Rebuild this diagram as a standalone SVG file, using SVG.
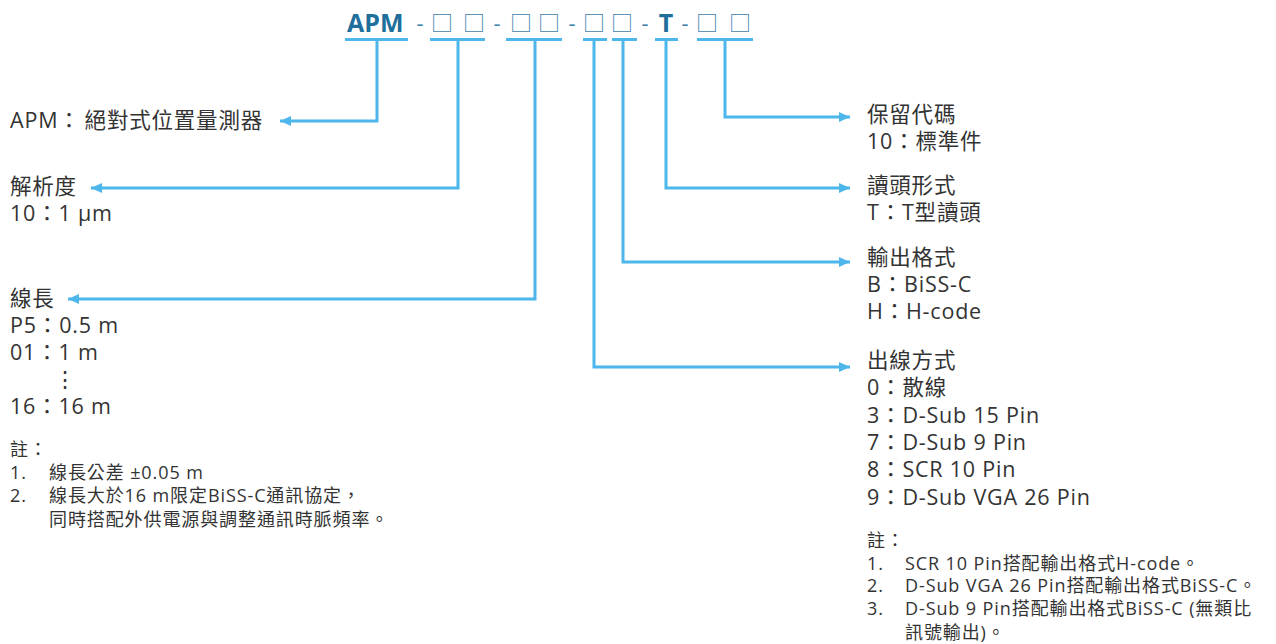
<svg xmlns="http://www.w3.org/2000/svg" width="1276" height="644" viewBox="0 0 1276 644">
<style>
.t{font-family:"Open Sans","Noto Sans CJK TC",sans-serif;font-size:21.5px;letter-spacing:0.8px;fill:#333}
.n{font-family:"Open Sans","Noto Sans CJK TC",sans-serif;font-size:18px;letter-spacing:0.9px;fill:#333}
.h{font-family:"Open Sans","Noto Sans CJK TC",sans-serif;font-size:25px;font-weight:bold;fill:#1f6f9c}
.b{font-family:"Noto Sans CJK TC",sans-serif;font-size:22px;fill:#3f83ae;text-anchor:middle}
.d{font-family:"Open Sans",sans-serif;font-size:22px;fill:#3f83ae;text-anchor:middle}
.u{stroke:#4db6ea;stroke-width:3;fill:none}
.c{stroke:#4db6ea;stroke-width:3;fill:none;marker-end:url(#ah)}
</style>
<defs>
<marker id="ah" markerUnits="userSpaceOnUse" markerWidth="12" markerHeight="10" refX="11" refY="5" orient="auto">
<path d="M0,0 L11,5 L0,10 Z" fill="#4db6ea"/>
</marker>
</defs>
<rect width="1276" height="644" fill="#fff"/>
<g id="header">
<text class="h" x="347" y="32">APM</text>
<text class="d" x="420" y="31">-</text>
<text class="b" x="442" y="31">□</text>
<text class="b" x="474" y="31">□</text>
<text class="d" x="497" y="31">-</text>
<text class="b" x="521" y="31">□</text>
<text class="b" x="549" y="31">□</text>
<text class="d" x="572" y="31">-</text>
<text class="b" x="594" y="31">□</text>
<text class="b" x="622" y="31">□</text>
<text class="d" x="645" y="31">-</text>
<text class="h" x="666" y="32" text-anchor="middle">T</text>
<text class="d" x="685" y="31">-</text>
<text class="b" x="707" y="31">□</text>
<text class="b" x="740" y="31">□</text>
<path class="u" d="M345,39.5H408M430,39.5H485M506,39.5H562M583,39.5H607M612,39.5H637M655,39.5H678M697,39.5H753"/>
</g>
<g id="connectors">
<path class="c" d="M377,39.5V121H280"/>
<path class="c" d="M458,39.5V188H91"/>
<path class="c" d="M535,39.5V299H68"/>
<path class="c" d="M594,39.5V367H850"/>
<path class="c" d="M623,39.5V262H850"/>
<path class="c" d="M666,39.5V188H850"/>
<path class="c" d="M725,39.5V117H850"/>
</g>
<g id="apm">
<text class="t" x="10" y="128">APM：<tspan dx="4">絕對式位置量測器</tspan></text>
</g>
<g id="resolution">
<text class="t" x="10" y="194">解析度</text>
<text class="t" x="10" y="221">10：1 μm</text>
</g>
<g id="length">
<text class="t" x="10" y="306">線長</text>
<text class="t" x="10" y="333">P5：0.5 m</text>
<text class="t" x="10" y="360">01：1 m</text>
<text class="t" x="65" y="387" text-anchor="middle">⋮</text>
<text class="t" x="10" y="414">16：16 m</text>
<text class="n" x="10" y="456">註：</text>
<text class="n" x="10" y="479">1.</text>
<text class="n" x="49" y="479">線長公差 ±0.05 m</text>
<text class="n" x="10" y="502">2.</text>
<text class="n" x="49" y="502">線長大於16 m限定BiSS-C通訊協定，</text>
<text class="n" x="49" y="526">同時搭配外供電源與調整通訊時脈頻率。</text>
</g>
<g id="reserved">
<text class="t" x="867" y="122">保留代碼</text>
<text class="t" x="867" y="149">10：標準件</text>
</g>
<g id="head">
<text class="t" x="867" y="193">讀頭形式</text>
<text class="t" x="867" y="220">T：T型讀頭</text>
</g>
<g id="output">
<text class="t" x="867" y="265">輸出格式</text>
<text class="t" x="867" y="292">B：BiSS-C</text>
<text class="t" x="867" y="319">H：H-code</text>
</g>
<g id="cable">
<text class="t" x="867" y="368">出線方式</text>
<text class="t" x="867" y="395">0：散線</text>
<text class="t" x="867" y="423">3：D-Sub 15 Pin</text>
<text class="t" x="867" y="450">7：D-Sub 9 Pin</text>
<text class="t" x="867" y="477">8：SCR 10 Pin</text>
<text class="t" x="867" y="505">9：D-Sub VGA 26 Pin</text>
<text class="n" x="867" y="547">註：</text>
<text class="n" x="867" y="570">1.</text>
<text class="n" x="905" y="570">SCR 10 Pin搭配輸出格式H-code。</text>
<text class="n" x="867" y="592">2.</text>
<text class="n" x="905" y="592">D-Sub VGA 26 Pin搭配輸出格式BiSS-C。</text>
<text class="n" x="867" y="615">3.</text>
<text class="n" x="905" y="615">D-Sub 9 Pin搭配輸出格式BiSS-C (無類比</text>
<text class="n" x="905" y="639">訊號輸出)。</text>
</g>
</svg>
